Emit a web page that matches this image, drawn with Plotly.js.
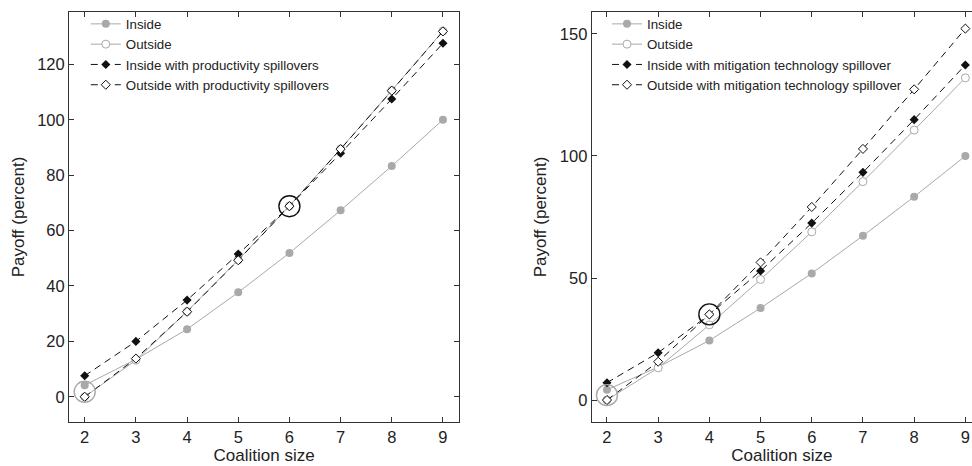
<!DOCTYPE html>
<html>
<head>
<meta charset="utf-8">
<script src="https://cdn.plot.ly/plotly-3.0.1.min.js"></script>
<style>
  html, body { margin: 0; padding: 0; background: #fff; }
  #chart { width: 972px; height: 466px; }
</style>
</head>
<body>
<div id="chart"></div>
<script>
// Coalition sizes on the horizontal axis
const coalitionSize = [2, 3, 4, 5, 6, 7, 8, 9];

// Baseline payoffs (percent), shared by both panels
const insideBase  = [4.2, 13.5, 24.4, 37.7, 51.9, 67.3, 83.3, 100];
const outsideBase = [0, 13.2, 30.8, 49.4, 68.9, 89.5, 110.6, 132.0];

// Left panel: productivity spillovers
const insideProd  = [7.6, 20.0, 34.9, 51.5, 68.8, 87.9, 107.5, 127.6];
const outsideProd = [0, 13.8, 30.7, 49.3, 68.8, 89.4, 110.5, 131.9];

// Right panel: mitigation technology spillover
const insideMit  = [7.1, 19.4, 35.0, 52.9, 72.5, 93.3, 114.9, 137.3];
const outsideMit = [0, 15.7, 35.1, 56.4, 79.1, 102.9, 127.3, 152.2];

// Highlighted equilibrium points (grey: without spillover, black: with spillover)
const leftHighlightX  = [2, 6];
const leftHighlightY  = [1.8, 68.8];
const rightHighlightX = [2, 4];
const rightHighlightY = [2.0, 35.1];

const legendLeft = ["Inside", "Outside",
  "Inside with productivity spillovers", "Outside with productivity spillovers"];
const legendRight = ["Inside", "Outside",
  "Inside with mitigation technology spillover", "Outside with mitigation technology spillover"];

const GREY = "#a9a9a9";
const BLACK = "#111";
const FONT = "Liberation Sans, Arial, sans-serif";
const TXT = "#222";

function panelTraces(xa, ya, legendId, names, inVals, outVals, inSp, outSp, hx, hy) {
  return [
    { x: coalitionSize, y: inVals, xaxis: xa, yaxis: ya, legend: legendId, name: names[0],
      type: "scatter", mode: "lines+markers",
      line: { color: GREY, width: 1 },
      marker: { symbol: "circle", size: 8, color: GREY } },
    { x: coalitionSize, y: outVals, xaxis: xa, yaxis: ya, legend: legendId, name: names[1],
      type: "scatter", mode: "lines+markers",
      line: { color: GREY, width: 1 },
      marker: { symbol: "circle", size: 8, color: "#fff", line: { color: GREY, width: 1 } } },
    { x: coalitionSize, y: inSp, xaxis: xa, yaxis: ya, legend: legendId, name: names[2],
      type: "scatter", mode: "lines+markers",
      line: { color: BLACK, width: 1, dash: "7px,5px" },
      marker: { symbol: "diamond", size: 7, color: BLACK } },
    { x: coalitionSize, y: outSp, xaxis: xa, yaxis: ya, legend: legendId, name: names[3],
      type: "scatter", mode: "lines+markers",
      line: { color: BLACK, width: 1, dash: "7px,5px" },
      marker: { symbol: "diamond", size: 7, color: "#fff", line: { color: BLACK, width: 1 } } },
    { x: hx, y: hy, xaxis: xa, yaxis: ya, showlegend: false, hoverinfo: "skip",
      type: "scatter", mode: "markers",
      marker: { symbol: "circle-open", size: 21,
                color: [GREY, BLACK], line: { color: [GREY, BLACK], width: 1.4 } } }
  ];
}

const data = [
  ...panelTraces("x", "y", "legend", legendLeft, insideBase, outsideBase,
                 insideProd, outsideProd, leftHighlightX, leftHighlightY),
  ...panelTraces("x2", "y2", "legend2", legendRight, insideBase, outsideBase,
                 insideMit, outsideMit, rightHighlightX, rightHighlightY)
];

function xAxis(domain, range, mirror) {
  return {
    domain: domain, range: range,
    tickvals: coalitionSize, ticktext: coalitionSize.map(String),
    ticks: "inside", ticklen: 5, tickcolor: "#333", tickwidth: 1,
    showline: true, linecolor: "#333", linewidth: 1, mirror: mirror,
    showgrid: false, zeroline: false,
    tickfont: { family: FONT, size: 16.5, color: TXT },
    title: { text: "Coalition size", font: { family: FONT, size: 17, color: TXT }, standoff: 2 }
  };
}
function yAxis(range, tickvals, mirror, anchor) {
  return {
    range: range, anchor: anchor,
    tickvals: tickvals,
    ticks: "inside", ticklen: 5, tickcolor: "#333", tickwidth: 1,
    showline: true, linecolor: "#333", linewidth: 1, mirror: mirror,
    showgrid: false, zeroline: false,
    tickfont: { family: FONT, size: 16.5, color: TXT },
    title: { text: "Payoff (percent)", font: { family: FONT, size: 17, color: TXT }, standoff: 8 }
  };
}

function legendBox(x) {
  return {
    x: x, y: 1.008, xanchor: "left", yanchor: "top",
    bgcolor: "rgba(0,0,0,0)", borderwidth: 0,
    font: { family: FONT, size: 13.3, color: TXT },
    itemwidth: 30, tracegroupgap: 0
  };
}

const layout = {
  width: 972, height: 466,
  margin: { l: 69, r: 0, t: 12, b: 44 },
  paper_bgcolor: "#fff", plot_bgcolor: "#fff",
  showlegend: true,
  xaxis: xAxis([0, 0.4322], [1.693, 9.319], "ticks"),
  yaxis: yAxis([-9.1, 138.9], [0, 20, 40, 60, 80, 100, 120], "ticks", "x"),
  xaxis2: Object.assign(xAxis([0.5788, 1], [1.701, 9.130], "ticks"), { anchor: "y2" }),
  yaxis2: yAxis([-9.0, 159.0], [0, 50, 100, 150], false, "x2"),
  legend: legendBox(0.0186),
  legend2: legendBox(0.5958)
};

Plotly.newPlot("chart", data, layout, { displayModeBar: false, staticPlot: true });
</script>
</body>
</html>
